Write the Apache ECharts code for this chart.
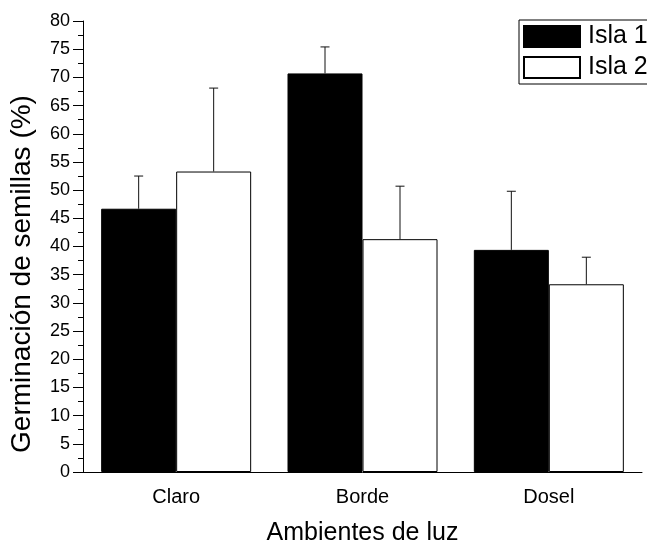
<!DOCTYPE html>
<html>
<head>
<meta charset="utf-8">
<script src="https://cdn.jsdelivr.net/npm/echarts@6/dist/echarts.min.js"></script>
<style>
  html, body { margin: 0; padding: 0; background: #fff; }
  #chart { width: 647px; height: 545px; }
</style>
</head>
<body>
<div id="chart"></div>
<script>
  var categories = ['Claro', 'Borde', 'Dosel'];
  var isla1 = [46.7, 70.7, 39.4];
  var isla1Err = [5.8, 4.7, 10.4];
  var isla2 = [53.3, 41.3, 33.3];
  var isla2Err = [14.8, 9.4, 4.8];

  var font = 'Liberation Sans, Arial, sans-serif';
  var barW = 75;

  // error bars drawn over the bars (upper side only)
  function errData(vals, errs) {
    return vals.map(function (v, i) { return [i, v, v + errs[i]]; });
  }
  function errRender(shift) {
    return function (params, api) {
      var lo = api.coord([api.value(0), api.value(1)]);
      var hi = api.coord([api.value(0), api.value(2)]);
      var x = lo[0] + shift;
      var st = { stroke: '#111', lineWidth: 1 };
      return {
        type: 'group',
        children: [
          { type: 'line', shape: { x1: x, y1: lo[1], x2: x, y2: hi[1] }, style: st },
          { type: 'line', shape: { x1: x - 4.5, y1: hi[1], x2: x + 4.5, y2: hi[1] }, style: st }
        ]
      };
    };
  }

  var chartDom = document.getElementById('chart');
  var myChart = echarts.init(chartDom);
  var option = {
    animation: false,
    textStyle: { fontFamily: font, color: '#000' },
    grid: { left: 83, right: 5, top: 21, bottom: 73, outerBoundsMode: 'none' },
    legend: {
      orient: 'vertical',
      left: 519,
      top: 20,
      padding: [4, 4, 4, 4],
      borderColor: '#000',
      borderWidth: 1,
      itemGap: 6,
      itemWidth: 56,
      itemHeight: 21,
      icon: 'rect',
      textStyle: { fontSize: 25, fontFamily: font, color: '#000', padding: [0, 0, 0, 3] },
      data: ['Isla 1', 'Isla 2']
    },
    graphic: [{
      type: 'text',
      x: 22,
      y: 274,
      rotation: Math.PI / 2,
      style: {
        text: 'Germinación de semillas (%)',
        font: '28px ' + font,
        fill: '#000',
        align: 'center',
        verticalAlign: 'middle'
      }
    }],
    xAxis: [{
      type: 'category',
      data: categories,
      position: 'bottom',
      name: 'Ambientes de luz',
      nameLocation: 'middle',
      nameGap: 49,
      nameTextStyle: { fontSize: 25, color: '#000', fontFamily: font },
      axisLine: { lineStyle: { color: '#000', width: 1 } },
      axisTick: { alignWithLabel: true, length: 8, lineStyle: { color: '#000' } },
      axisLabel: { fontSize: 20, color: '#000', margin: 15, fontFamily: font }
    }, {
      type: 'category',
      data: categories,
      position: 'bottom',
      axisLine: { show: false },
      axisTick: { length: 4, lineStyle: { color: '#000' } },
      axisLabel: { show: false }
    }],
    yAxis: {
      type: 'value',
      min: 0,
      max: 80,
      interval: 5,
      axisLine: { show: true, lineStyle: { color: '#000', width: 1 } },
      axisTick: { show: true, length: 10, lineStyle: { color: '#000' } },
      minorTick: { show: true, splitNumber: 2, length: 5, lineStyle: { color: '#000' } },
      splitLine: { show: false },
      axisLabel: { fontSize: 18, color: '#000', margin: 13, fontFamily: font }
    },
    series: [
      {
        name: 'Isla 1',
        type: 'bar',
        data: isla1,
        barWidth: barW,
        barGap: '0%',
        itemStyle: { color: '#000', borderColor: '#000', borderWidth: 1 }
      },
      {
        name: 'Isla 2',
        type: 'bar',
        data: isla2,
        barWidth: barW,
        barGap: '0%',
        itemStyle: { color: '#fff', borderColor: '#000', borderWidth: 1 }
      },
      {
        type: 'custom',
        renderItem: errRender(-barW / 2),
        data: errData(isla1, isla1Err),
        z: 5
      },
      {
        type: 'custom',
        renderItem: errRender(barW / 2),
        data: errData(isla2, isla2Err),
        z: 5
      }
    ]
  };
  option && myChart.setOption(option);
</script>
</body>
</html>
